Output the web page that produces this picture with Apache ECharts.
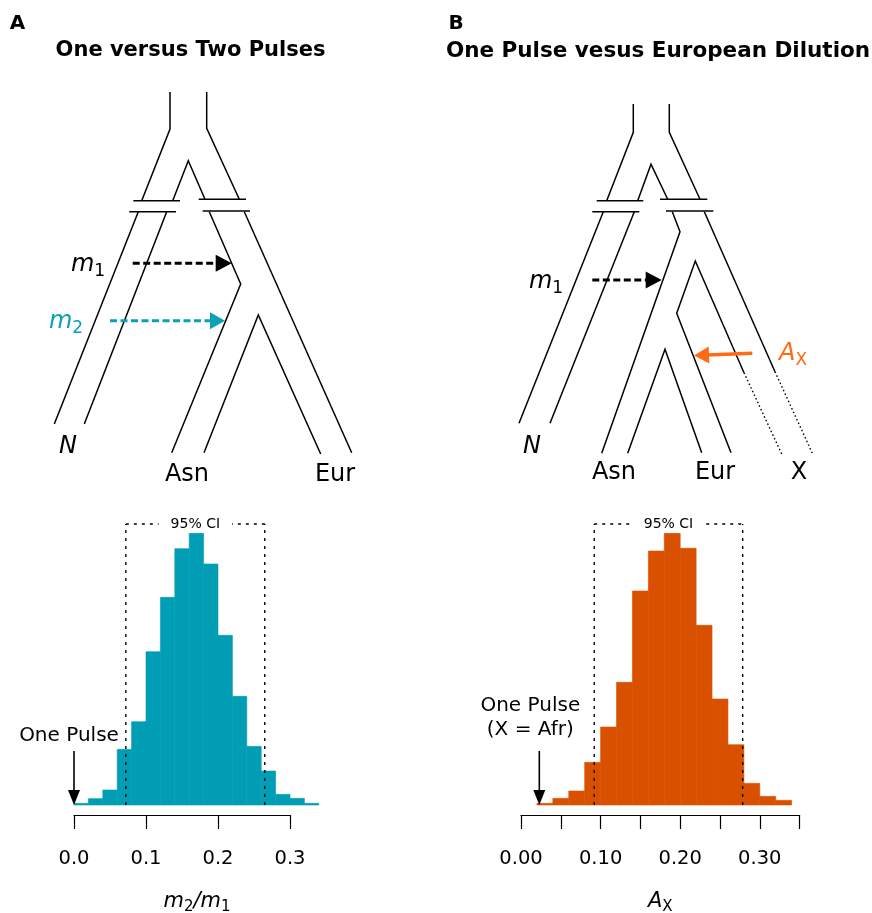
<!DOCTYPE html>
<html><head><meta charset="utf-8">
<script src="https://cdn.jsdelivr.net/npm/echarts@6/dist/echarts.min.js"></script>
<style>html,body{margin:0;padding:0;background:#fff}#c{width:872px;height:913px}</style>
</head><body><div id="c"></div>
<script>
// ---------- Histogram A (m2/m1) ----------
const binLeftA  = [0.00,0.02,0.04,0.06,0.08,0.10,0.12,0.14,0.16,0.18,0.20,0.22,0.24,0.26,0.28,0.30,0.32];
const binRightA = [0.02,0.04,0.06,0.08,0.10,0.12,0.14,0.16,0.18,0.20,0.22,0.24,0.26,0.28,0.30,0.32,0.34];
const heightsA  = [5,19,45,167,250,460,623,769,815,723,509,326,176,102,32,20,5];
const ciA = [0.072, 0.265];
const onePulseA = 0.0;

// ---------- Histogram B (A_X) ----------
const binLeftB  = [0.02,0.04,0.06,0.08,0.10,0.12,0.14,0.16,0.18,0.20,0.22,0.24,0.26,0.28,0.30,0.32];
const binRightB = [0.04,0.06,0.08,0.10,0.12,0.14,0.16,0.18,0.20,0.22,0.24,0.26,0.28,0.30,0.32,0.34];
const heightsB  = [5,20,42,128,234,368,642,762,815,770,539,318,181,65,26,14];
const ciB = [0.092, 0.2785];
const onePulseB = 0.023;

const tickLabelsA = ['0.0','0.1','0.2','0.3'];
const tickLabelsB = ['0.00','0.10','0.20','0.30'];

// ---------- Diagram geometry (schematic, in page units) ----------
const treeA = [
  [[170,92],[170,129],[141.7,200.7]],
  [[206.7,92],[206.7,128.3],[239.3,199.3]],
  [[172.7,200.7],[188.3,160.7],[205,199.3]],
  [[133.3,200.7],[180,200.7]],
  [[198.7,199.3],[246,199.3]],
  [[129.3,211.7],[176,211.7]],
  [[202.7,211],[250,211]],
  [[138.3,211.7],[54.3,424]],
  [[166.7,211.7],[84.3,424]],
  [[209.3,211.7],[240.7,284],[171.7,452.7]],
  [[244.3,211.7],[351.7,452.7]],
  [[204,452.7],[258.3,315],[320.7,454]]
];
const treeB = [
  [[633.3,104],[633.3,132.3],[606.7,200.7]],
  [[669.3,104],[669.3,132.3],[700,199.3]],
  [[637.7,200.7],[651,164.3],[667.7,199.3]],
  [[596.7,200.7],[643.3,200.7]],
  [[660,199.3],[707.3,199.3]],
  [[592.3,211.7],[639.3,211.7]],
  [[666,211],[713.3,211]],
  [[603.3,211.7],[519,423.3]],
  [[634.3,211.7],[550,423.3]],
  [[672.3,211.7],[680,231.7],[601.7,453.3]],
  [[704.3,211.7],[775,371.7]],
  [[744,372.7],[695.3,261],[676.7,313.3],[731,452.7]],
  [[627.7,453.3],[665,349.3],[701.7,452.7]]
];
const treeBDotted = [
  [[775,371.7],[812.7,454]],
  [[744,372.7],[781.7,454]]
];
const arrowsBlack = [[132.7,263.3,231.7,263.3],[592.3,280,661.7,280]];
const arrowsTeal = [[110,320.7,225,320.7]];
const arrowsOrange = [[752.3,353.3,694,355.5]];

const TEAL = '#009db4', TEAL_TXT = '#0aa0b8', ORANGE_BAR = '#d95000', ORANGE = '#ff6a14';
const FONT = 'DejaVu Sans';

const chart = echarts.init(document.getElementById('c'), null, {renderer:'canvas'});

function histItem(params, api) {
  const p0 = api.coord([api.value(0), api.value(2)]);
  const p1 = api.coord([api.value(1), 0]);
  const c = api.visual('color');
  return {type:'rect', shape:{x:p0[0], y:p0[1], width:p1[0]-p0[0], height:p1[1]-p0[1]},
    style:{fill:c, stroke:c, lineWidth:0.6}};
}
function ciItem(yTop) {
  return function(params, api) {
    const lo = api.value(0), hi = api.value(1);
    const b0 = api.coord([lo, 0]), t0 = api.coord([lo, yTop]);
    const b1 = api.coord([hi, 0]), t1 = api.coord([hi, yTop]);
    const ls = {stroke:'#000', lineWidth:1.4, lineDash:[3,5], fill:null};
    return {type:'group', children:[
      {type:'line', shape:{x1:b0[0],y1:b0[1],x2:t0[0],y2:t0[1]}, style:ls},
      {type:'line', shape:{x1:b1[0],y1:b1[1],x2:t1[0],y2:t1[1]}, style:ls},
      {type:'line', shape:{x1:t0[0],y1:t0[1],x2:t1[0],y2:t1[1]}, style:ls},
      {type:'text', x:(t0[0]+t1[0])/2, y:t0[1], style:{text:'95% CI', fontFamily:FONT, fontSize:14, fill:'#000',
        align:'center', verticalAlign:'middle', backgroundColor:'#fff', padding:[2,12,2,12]}}
    ]};
  };
}
function pulseItem(lines, dx, dy) {
  return function(params, api) {
    const b = api.coord([api.value(0), 0]);
    const top = b[1] - 54, hl = 15, hw = 6;
    return {type:'group', children:[
      {type:'line', shape:{x1:b[0],y1:top,x2:b[0],y2:b[1]-hl+2}, style:{stroke:'#000', lineWidth:1.6}},
      {type:'polygon', shape:{points:[[b[0],b[1]],[b[0]-hw,b[1]-hl],[b[0]+hw,b[1]-hl]]}, style:{fill:'#000'}},
      {type:'text', x:b[0]+dx, y:b[1]+dy, style:{text:lines, fontFamily:FONT, fontSize:20, lineHeight:24, fill:'#000',
        align:'center', verticalAlign:'middle'}}
    ]};
  };
}
function arrowItem(hl, hw, lw, dash) {
  return function(params, api) {
    const s = api.coord([api.value(0), api.value(1)]);
    const e = api.coord([api.value(2), api.value(3)]);
    const dx = e[0]-s[0], dy = e[1]-s[1], L = Math.hypot(dx, dy);
    const ux = dx/L, uy = dy/L, nx = -uy, ny = ux;
    const bx = e[0]-ux*hl, by = e[1]-uy*hl;
    return {type:'group', children:[
      {type:'line', shape:{x1:s[0],y1:s[1],x2:bx+ux*2,y2:by+uy*2}, style:{stroke:api.visual('color'), lineWidth:lw, lineDash:dash}},
      {type:'polygon', shape:{points:[[e[0],e[1]],[bx+nx*hw/2,by+ny*hw/2],[bx-nx*hw/2,by-ny*hw/2]]}, style:{fill:api.visual('color')}}
    ]};
  };
}

const binsA = heightsA.map((h,i)=>[binLeftA[i], binRightA[i], h]);
const binsB = heightsB.map((h,i)=>[binLeftB[i], binRightB[i], h]);

const richMain = {
  i:{fontFamily:FONT, fontStyle:'italic', fontSize:24, lineHeight:30},
  u:{fontFamily:FONT, fontSize:24, lineHeight:30},
  s:{fontFamily:FONT, fontSize:17, lineHeight:17, verticalAlign:'bottom'}
};
function label(x, y, text, color, rich, size, bold) {
  return {type:'text', x:x, y:y, silent:true, style:{text:text, fill:color, fontFamily:FONT, fontSize:size||24,
    fontWeight:bold?'bold':'normal', align:'center', verticalAlign:'middle', rich:rich}};
}
function richColored(c) {
  const r = {};
  Object.keys(richMain).forEach(k=>{ r[k] = Object.assign({}, richMain[k], {color:c}); });
  return r;
}
const rBlack = richColored('#000'), rTeal = richColored(TEAL_TXT), rOrange = richColored(ORANGE);

const yTop = 843;
const axisCommon = {
  type:'value', offset:10, splitLine:{show:false},
  axisLine:{show:true, onZero:false, lineStyle:{color:'#000', width:1.2}},
  axisTick:{show:true, length:14, inside:false, lineStyle:{color:'#000', width:1.2}},
  axisLabel:{color:'#000', fontFamily:FONT, fontSize:19.5, margin:34},
  nameLocation:'middle', nameGap:74
};
const nameRich = {i:{fontFamily:FONT, fontStyle:'italic', fontSize:21, lineHeight:26, color:'#000'},
                  s:{fontFamily:FONT, fontSize:15, lineHeight:15, verticalAlign:'bottom', color:'#000'}};

const option = {
  animation:false,
  backgroundColor:'#fff',
  textStyle:{fontFamily:FONT},
  grid:[
    {left:0, top:0, width:872, height:913, outerBoundsMode:'none'},
    {left:74, top:524, width:216, height:281, outerBoundsMode:'none'},
    {left:521, top:524, width:278.6, height:281, outerBoundsMode:'none'}
  ],
  xAxis:[
    {gridIndex:0, type:'value', min:0, max:872, show:false},
    Object.assign({}, axisCommon, {gridIndex:1, min:0, max:0.3, interval:0.1,
      axisLabel:Object.assign({}, axisCommon.axisLabel, {formatter:(v)=>tickLabelsA[Math.round(v*10)]}),
      name:'{i|m}{s|2}{i|/m}{s|1}',
      nameTextStyle:{rich:nameRich, padding:[0,0,0,30]}}),
    Object.assign({}, axisCommon, {gridIndex:2, min:0, max:0.35, interval:0.05,
      axisLabel:Object.assign({}, axisCommon.axisLabel, {formatter:(v)=>{const k=Math.round(v*100); return k%10===0 ? tickLabelsB[k/10] : '';}}),
      name:'{i|A}{s|X}',
      nameTextStyle:{rich:nameRich}})
  ],
  yAxis:[
    {gridIndex:0, type:'value', min:0, max:913, inverse:true, show:false},
    {gridIndex:1, type:'value', min:0, max:yTop, show:false},
    {gridIndex:2, type:'value', min:0, max:yTop, show:false}
  ],
  series:[
    {type:'lines', coordinateSystem:'cartesian2d', xAxisIndex:0, yAxisIndex:0, polyline:true, silent:true,
      lineStyle:{color:'#000', width:1.5, opacity:1}, data:treeA.concat(treeB).map(p=>({coords:p}))},
    {type:'lines', coordinateSystem:'cartesian2d', xAxisIndex:0, yAxisIndex:0, polyline:true, silent:true,
      lineStyle:{color:'#000', width:1.4, opacity:1, type:[1.5,2.5]}, data:treeBDotted.map(p=>({coords:p}))},
    {type:'custom', xAxisIndex:0, yAxisIndex:0, silent:true, itemStyle:{color:'#000'},
      renderItem:arrowItem(16,17,3,[7,3.5]), data:arrowsBlack},
    {type:'custom', xAxisIndex:0, yAxisIndex:0, silent:true, itemStyle:{color:TEAL_TXT},
      renderItem:arrowItem(15,17,3,[7,3.5]), data:arrowsTeal},
    {type:'custom', xAxisIndex:0, yAxisIndex:0, silent:true, itemStyle:{color:ORANGE},
      renderItem:arrowItem(15,17,3.5,null), data:arrowsOrange},

    {type:'custom', xAxisIndex:1, yAxisIndex:1, silent:true, clip:false, itemStyle:{color:TEAL},
      renderItem:histItem, encode:{x:[0,1], y:2}, data:binsA},
    {type:'custom', xAxisIndex:2, yAxisIndex:2, silent:true, clip:false, itemStyle:{color:ORANGE_BAR},
      renderItem:histItem, encode:{x:[0,1], y:2}, data:binsB},
    {type:'custom', xAxisIndex:1, yAxisIndex:1, silent:true, clip:false, renderItem:ciItem(yTop), data:[ciA]},
    {type:'custom', xAxisIndex:2, yAxisIndex:2, silent:true, clip:false, renderItem:ciItem(yTop), data:[ciB]},
    {type:'custom', xAxisIndex:1, yAxisIndex:1, silent:true, clip:false, renderItem:pulseItem('One Pulse',-5,-69), data:[[onePulseA]]},
    {type:'custom', xAxisIndex:2, yAxisIndex:2, silent:true, clip:false, renderItem:pulseItem('One Pulse\n(X = Afr)',-9,-87), data:[[onePulseB]]}
  ],
  graphic:[
    label(17.5, 24, 'A', '#000', null, 20, true),
    label(456, 24, 'B', '#000', null, 20, true),
    label(190.5, 51, 'One versus Two Pulses', '#000', null, 21, true),
    label(658, 51, 'One Pulse vesus European Dilution', '#000', null, 21.5, true),
    label(88, 265, '{i|m}{s|1}', '#000', rBlack),
    label(66, 322, '{i|m}{s|2}', TEAL_TXT, rTeal),
    label(68, 447, '{i|N}', '#000', rBlack),
    label(187, 475, 'Asn', '#000'),
    label(335, 475, 'Eur', '#000'),
    label(546, 282, '{i|m}{s|1}', '#000', rBlack),
    label(793, 354, '{i|A}{s|X}', ORANGE, rOrange),
    label(532, 447, '{i|N}', '#000', rBlack),
    label(614, 473, 'Asn', '#000'),
    label(715, 473, 'Eur', '#000'),
    label(799, 473, 'X', '#000')
  ]
};
chart.setOption(option);
</script>
</body></html>
